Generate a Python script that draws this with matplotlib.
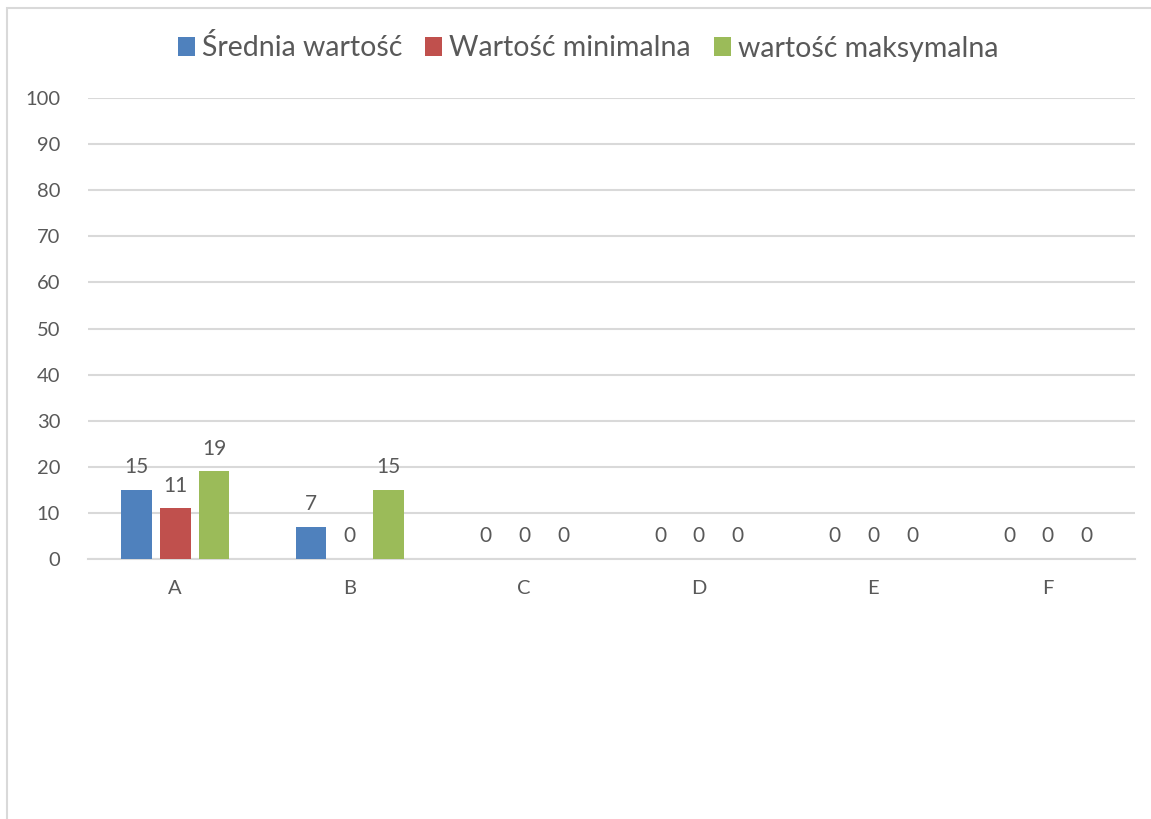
import numpy as np
import matplotlib.pyplot as plt
from matplotlib.patches import Rectangle

# kategorie i wartości
kategorie = ['A', 'B', 'C', 'D', 'E', 'F']
srednia = [15, 7, 0, 0, 0, 0]
minimalna = [11, 0, 0, 0, 0, 0]
maksymalna = [19, 15, 0, 0, 0, 0]
serie = ['Średnia wartość', 'Wartość minimalna', 'wartość maksymalna']
kolory = ['#4F81BD', '#C0504D', '#9BBB59']

plt.rcParams['font.family'] = ['Lato', 'DejaVu Sans']
tekst = '#595959'

fig = plt.figure(figsize=(11.51, 8.19), dpi=100)
W, H = 1151, 819
ax = fig.add_axes([88 / W, 1 - 559 / H, (1135 - 88) / W, (559 - 98) / H])

# ramka wykresu
fig.patches.append(Rectangle((7 / W, -0.1), 1.2, 1 - 8 / H + 0.1, transform=fig.transFigure,
                             fill=False, edgecolor='#D9D9D9', linewidth=1.5))

x = np.arange(len(kategorie))
szer = 0.175
odst = 0.222
for i, (dane, nazwa, kol) in enumerate(zip([srednia, minimalna, maksymalna], serie, kolory)):
    pos = x + (i - 1) * odst
    ax.bar(pos, dane, width=szer, color=kol, label=nazwa, zorder=3)
    for p, v in zip(pos, dane):
        ax.annotate(str(v), (p, v), xytext=(0, 9), textcoords='offset points',
                    ha='center', va='bottom', fontsize=15, color=tekst)

ax.set_xlim(-0.5, 5.5)
ax.set_ylim(0, 100)
ax.set_yticks(range(0, 101, 10))
ax.set_xticks(x)
ax.set_xticklabels(kategorie)
ax.grid(axis='y', color='#D9D9D9', linewidth=1.5, zorder=0)
for s in ['top', 'right', 'left']:
    ax.spines[s].set_visible(False)
ax.spines['bottom'].set_color('#D9D9D9')
ax.spines['bottom'].set_linewidth(1.5)
ax.tick_params(axis='both', length=0, labelsize=14.5, colors=tekst)
ax.tick_params(axis='y', pad=20)
ax.tick_params(axis='x', pad=15)

leg = fig.legend(loc='center', bbox_to_anchor=(588 / W, 1 - 48 / H), ncol=3, frameon=False,
                 fontsize=20.5, handlelength=0.6, handleheight=0.6, handletextpad=0.25,
                 columnspacing=0.8)
for t in leg.get_texts():
    t.set_color(tekst)

fig.savefig('out.png', dpi=100)
